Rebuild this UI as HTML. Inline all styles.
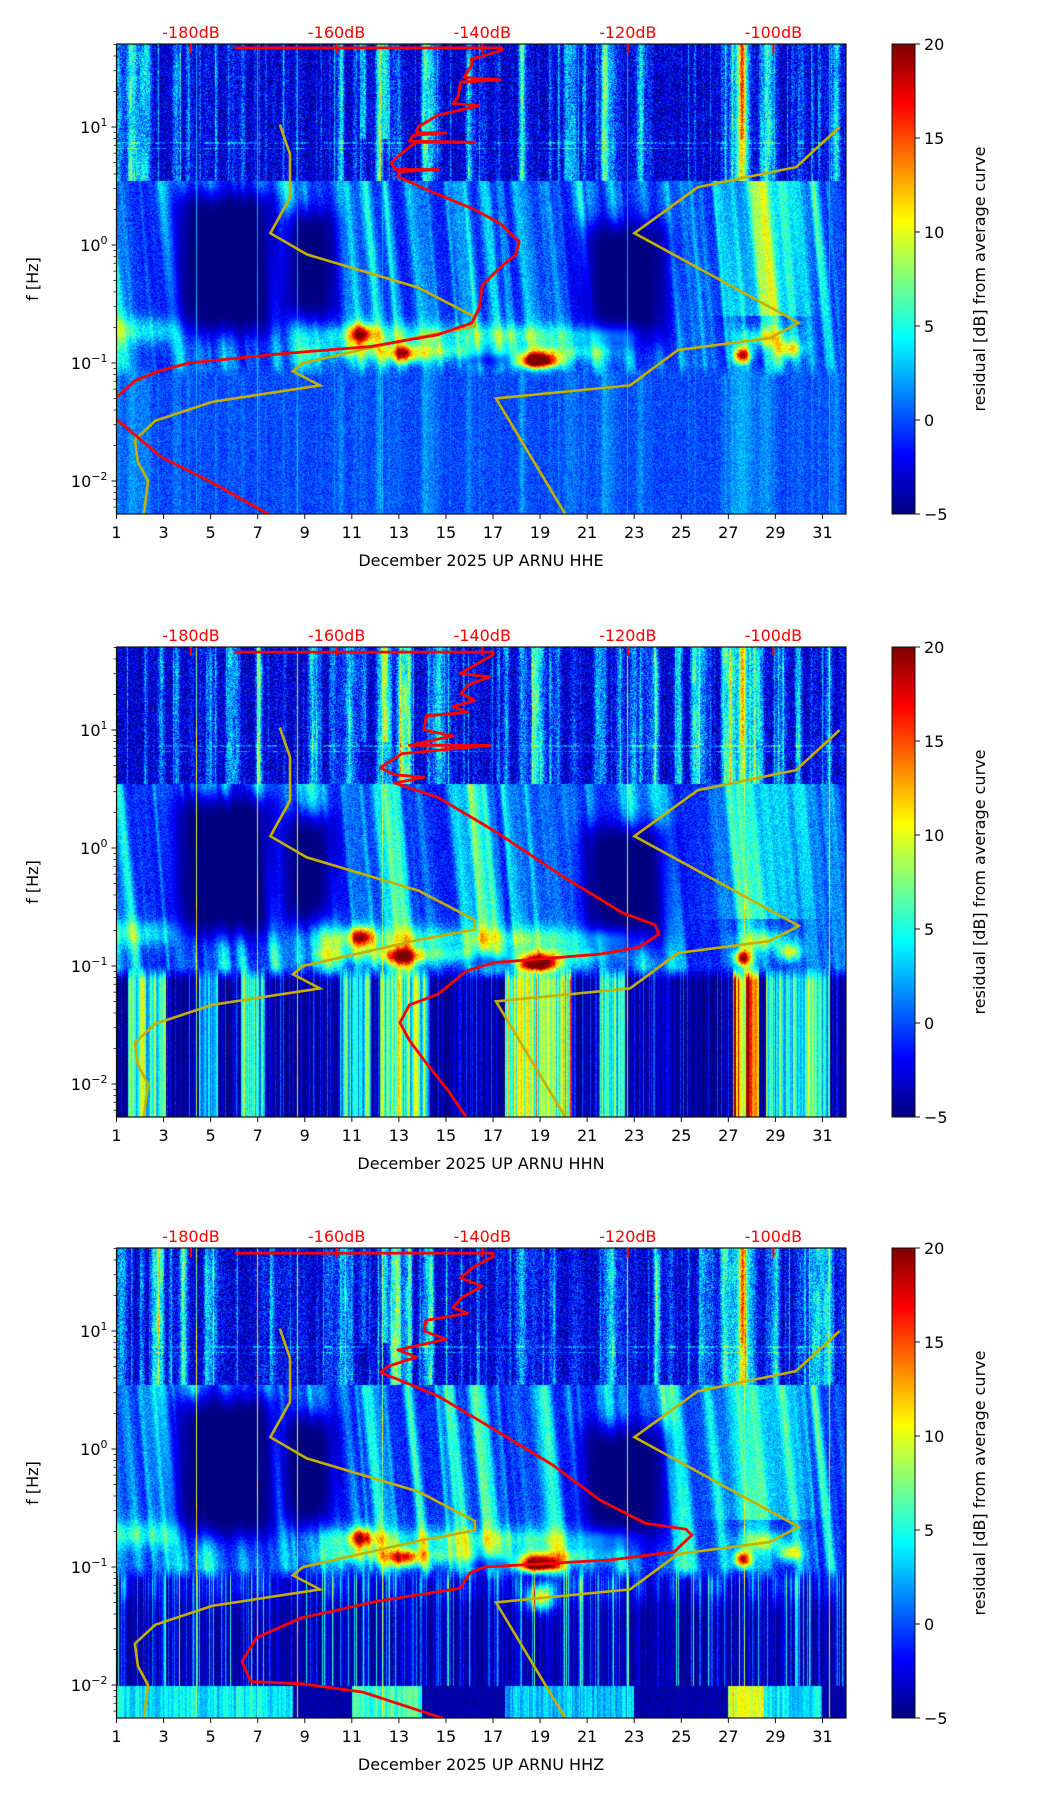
<!DOCTYPE html>
<html><head><meta charset="utf-8">
<style>
html,body{margin:0;padding:0;background:#fff;}
#root{position:relative;width:1052px;height:1806px;overflow:hidden;font-family:"DejaVu Sans","Liberation Sans",sans-serif;}
canvas{position:absolute;}
svg{position:absolute;left:0;top:0;}
</style></head>
<body>
<div id="root">
<canvas id="c0" width="730" height="470" style="left:116px;top:44px"></canvas>
<canvas id="c1" width="730" height="470" style="left:116px;top:647px"></canvas>
<canvas id="c2" width="730" height="470" style="left:116px;top:1248px"></canvas>
<canvas id="cb0" width="23" height="470" style="left:892px;top:44px"></canvas>
<canvas id="cb1" width="23" height="470" style="left:892px;top:647px"></canvas>
<canvas id="cb2" width="23" height="470" style="left:892px;top:1248px"></canvas>
<svg id="ov" width="1052" height="1806"></svg>
</div>
<script>
// ---- data ----
const channels = ["HHE","HHN","HHZ"];
const dayTicks = [1,3,5,7,9,11,13,15,17,19,21,23,25,27,29,31];
const dbTicks = [-180,-160,-140,-120,-100];
const dbTickLabels = ["-180dB","-160dB","-140dB","-120dB","-100dB"];
const yTickExp = [1,0,-1,-2];
const cbTicks = [-5,0,5,10,15,20];
// red curves: log10(freq) and dB
const redLogF0 = [1.67,1.67,1.65,1.60,1.58,1.53,1.42,1.40,1.38,1.26,1.20,1.18,1.10,1.00,0.95,0.95,0.93,0.88,0.87,0.87,0.84,0.78,0.70,0.64,0.64,0.62,0.58,0.45,0.31,0.19,0.03,-0.08,-0.20,-0.34,-0.53,-0.66,-0.76,-0.86,-0.92,-1.00,-1.07,-1.15,-1.28,-1.40,-1.49,-1.80,-2.00,-2.29];
const redDb0   = [-174,-137.3,-137.3,-140,-141.5,-141.4,-142.5,-137.5,-143,-143.3,-144,-140.5,-146.1,-148.8,-149,-145,-149.5,-150,-141,-149,-149.8,-151,-152.5,-152,-146,-151.5,-151.6,-146.9,-141.4,-137.7,-134.9,-135.4,-137.7,-140.0,-140.4,-141.4,-146.1,-155.3,-167.4,-180.3,-184.5,-187.7,-190.0,-192,-190.0,-184.0,-177.5,-169.1];
const redLogF1 = [1.66,1.66,1.64,1.55,1.48,1.45,1.38,1.31,1.25,1.20,1.15,1.12,1.00,0.95,0.87,0.87,0.80,0.68,0.62,0.60,0.55,0.43,0.14,-0.25,-0.55,-0.65,-0.73,-0.84,-0.90,-0.97,-1.04,-1.24,-1.33,-1.48,-1.63,-1.82,-2.07,-2.29];
const redDb1   = [-174,-138.5,-138.5,-141,-143,-139,-142,-142.9,-141,-144,-142,-147.7,-148,-144,-150,-139,-151,-154.0,-152,-148,-152,-146.1,-138.2,-128.7,-120.7,-116.3,-115.7,-118.4,-123.9,-138.2,-142.1,-146.1,-150.0,-151.3,-150.0,-147.7,-144.5,-142.1];
const redLogF2 = [1.66,1.66,1.63,1.55,1.45,1.38,1.28,1.20,1.15,1.09,1.00,0.93,0.84,0.78,0.70,0.65,0.60,0.55,0.45,0.16,-0.14,-0.43,-0.63,-0.68,-0.73,-0.87,-0.94,-1.00,-1.05,-1.18,-1.29,-1.43,-1.60,-1.80,-1.97,-1.99,-2.06,-2.29];
const redDb2   = [-174,-138.5,-138.5,-141,-143,-140,-142.9,-144,-142,-147.7,-148,-145,-151.6,-149,-153,-154.0,-152,-150,-146.1,-138.2,-130.2,-123.9,-117.6,-112.0,-111.2,-113.6,-122.3,-139.7,-141.7,-143,-154.4,-164.8,-171,-173,-171.8,-164.8,-156.4,-145];
const redLogF = [redLogF0, redLogF1, redLogF2];
const redDb = [redDb0, redDb1, redDb2];
// yellow curves (two segments), same in all panels
const yelALogF = [1.02,0.77,0.40,0.10,-0.08,-0.36,-0.61,-0.69,-0.78,-1.00,-1.07,-1.19,-1.33,-1.49,-1.65,-1.84,-2.00,-2.29];
const yelADb   = [-167.8,-166.4,-166.4,-169.1,-164.1,-148.8,-141.0,-141.0,-148.8,-164.6,-166.0,-162.3,-177.1,-184.9,-187.7,-187.3,-185.9,-186.5];
const yelBLogF = [1.00,0.66,0.49,0.10,-0.66,-0.79,-0.89,-1.19,-1.30,-2.29];
const yelBDb   = [-90.9,-96.9,-110.4,-119.1,-96.5,-100.6,-113.1,-119.7,-138.1,-128.5];

// ---- geometry ----
const L=116.5, W=729.5, H=470, TOPS=[44,647,1248];
const xDay = d => L + (d-1)*W/31;
const yLog = (t,lf) => t + 83 + (1-lf)*118;
const xDb = db => 191 + (db+180)*7.28;
const NS="http://www.w3.org/2000/svg";
const svg=document.getElementById('ov');
function el(tag, attrs, parent){const e=document.createElementNS(NS,tag);for(const k in attrs)e.setAttribute(k,attrs[k]);(parent||svg).appendChild(e);return e;}

function jet(v){let t=(v+5)/25;t=Math.max(0,Math.min(1,t));
  const c=x=>Math.max(0,Math.min(1,x));
  return [c(1.5-Math.abs(4*t-3))*255,c(1.5-Math.abs(4*t-2))*255,c(1.5-Math.abs(4*t-1))*255];}
function h(i,j){let n=(i*374761393+j*668265263)|0;n=(n^(n>>>13))*1274126177|0;n=n^(n>>>16);return (n>>>0)/4294967296;}
function g(x,m,s){return Math.exp(-((x-m)*(x-m))/(2*s*s));}
function vn(x,seed){const i=Math.floor(x),f=x-i;const u=f*f*(3-2*f);return h(i,seed)*(1-u)+h(i+1,seed)*u;}
function box(d,lf,d0,d1,l0,l1,s,sl){const sg=z=>1/(1+Math.exp(-z));
  return sg((d-d0)/s)*sg((d1-d)/s)*sg((lf-l0)/sl)*sg((l1-lf)/sl);}

const thinLines=[4.4,7.0,8.7,12.3,22.7,27.7,31.3];
const colStreaks=[0,1,2].map(p=>{const a=[];for(let i=0;i<730;i++){
  let v=Math.pow(vn(i/7.5,p*3+1),3)*0.9+Math.pow(vn(i/2.2,p*3+2),6)*0.6;a.push(v);}return a;});

function lowBright(d,p){
  const rs=[[1.5,3.1,10],[4.5,5.3,5],[6.3,7.3,6],[10.5,11.8,8],[12.2,14.3,11],[17.5,20.3,13],[21.5,22.6,7],[27.2,28.3,22],[28.6,31.3,9]];
  let v=-5;for(const r of rs){ if(d>r[0]&&d<r[1]) v=Math.max(v,-5+(r[2]+5)*(0.35+0.65*vn(d*14,p+20)));}
  return v;}
function low3(d){const rs=[[1,8.5,3],[11,14,5],[17.5,23,2],[27,28.5,9],[28.5,31,3]];
  let v=-4;for(const r of rs){if(d>r[0]&&d<r[1]) v=r[2]-1+4*vn(d*18,33);} return v;}

function field(px,py,p){
  const d=1+px*31/W; const lf=1+(83-py)/118;
  const n=(h(px+p*1000,py)-0.5);
  const cs=colStreaks[p][px];
  let v;
  if(lf>0.55){
    const vm=0.6+0.4*vn(py/25,px>>2);
    v=-3.2+cs*13*vm+n*6;
    if(Math.abs(lf-0.87)<0.01||Math.abs(lf-0.82)<0.006) v+=4*h(px>>3,p+3);
    v+=9*g(d,27.6,0.22)+7*g(d,27.6,0.08)*(lf>0.9?1:0.4);
    if(lf>0.9) v+=7*g(d,12.4,0.1)+4*g(d,11.5,0.1);
  } else {
    const s1=vn(d*2.2+lf*1.1,p+40), s2=vn(d*5+lf*2,p+50);
    const ws=Math.pow(s1,2.5)*7.5+Math.pow(s2,3)*4;
    v=-1.5+ws+n*3.5;
    v+=4*g(d,28.6,1.2)*(lf>-0.6?1:0);
    let dk=Math.max(box(d,lf,3.5,7.8,-0.75,0.45,0.3,0.06),box(d,lf,8.0,10.3,-0.65,0.3,0.25,0.06),
      box(d,lf,20.8,24.4,-0.85,0.2,0.3,0.06),box(d,lf,16,18.3,-1.0,-0.88,0.2,0.03));
    v=v*(1-dk)+(-5.5)*dk;
    v+=9*g(lf,-0.72,0.08)*box(d,0,0,3.6,-1,1,0.3,1);
    v+=4*g(lf,-0.85,0.15)*box(d,0,9.3,23,-1,1,0.5,1);
    v+=8*g(lf,-0.76,0.06)*box(d,0,9.5,23,-1,1,0.5,1)*(0.6+0.6*vn(d*2,p+60));
    v+=9*g(lf,-0.9,0.045)*box(d,0,9.5,22,-1,1,0.5,1)*(0.5+0.7*vn(d*2.5,p+61));
    v+=24*g(lf,-0.98,0.05)*g(d,18.9,0.6);
    v+=14*g(lf,-0.75,0.06)*g(d,11.4,0.35);
    v+=12*g(lf,-0.92,0.05)*g(d,13.2,0.5);
    v+=18*g(lf,-0.93,0.05)*g(d,27.6,0.25);
    v+=10*g(lf,-0.88,0.05)*g(d,29.6,0.35);
    v+=7*g(lf,-0.78,0.06)*g(d,28.5,0.8);
    if(lf<-1.0){
      let lv;
      if(p==0){ lv=-0.2+cs*2.5+n*3+2*g(d,27.7,0.4); }
      else if(p==1){ lv=lowBright(d,p)+n*2+Math.pow(vn(d*30,p+70),3)*6; }
      else { lv=(lf<-2)? low3(d)+n*2 : -4.5+n*2+Math.pow(vn(d*25,80),4)*12+4*g(lf,-1.15,0.1)*vn(d*3,81);
        if(lf>=-2) lv+=14*g(lf,-1.25,0.08)*g(d,19,0.4); }
      const bl=Math.min(1,Math.max(0,(-1.0-lf)/0.12));
      v=v*(1-bl)+lv*bl;
    }
  }
  for(const ld of thinLines){ if(Math.abs(d-ld)<0.025) v=Math.max(v,(p==0?3:12)*(0.5+0.5*vn(py/30,ld*10|0))); }
  return v;
}

for(let p=0;p<3;p++){
  const cv=document.getElementById('c'+p), ctx=cv.getContext('2d');
  const img=ctx.createImageData(730,470);
  for(let y=0;y<470;y++)for(let x=0;x<730;x++){const c=jet(field(x,y,p));const o=(y*730+x)*4;
    img.data[o]=c[0];img.data[o+1]=c[1];img.data[o+2]=c[2];img.data[o+3]=255;}
  ctx.putImageData(img,0,0);
  const cb=document.getElementById('cb'+p).getContext('2d');
  for(let y=0;y<470;y++){const c=jet(20-y*25/470);cb.fillStyle=`rgb(${c[0]|0},${c[1]|0},${c[2]|0})`;cb.fillRect(0,y,23,1);}
}

function path(lfs,dbs,t){return lfs.map((lf,i)=>(i?'L':'M')+xDb(dbs[i]).toFixed(1)+','+yLog(t,lf).toFixed(1)).join(' ');}

for(let p=0;p<3;p++){
  const t=TOPS[p];
  const grp=el('g',{});
  const cp=el('clipPath',{id:'cl'+p},grp); el('rect',{x:L,y:t,width:W,height:H},cp);
  const yA=el('path',{d:path(yelALogF,yelADb,t),fill:'none',stroke:'#c4b000','stroke-width':2.6,'clip-path':`url(#cl${p})`},grp);
  
  
  const yB=el('path',{d:path(yelBLogF,yelBDb,t),fill:'none',stroke:'#c4b000','stroke-width':2.6,'clip-path':`url(#cl${p})`},grp);
  
  
  const rc=el('path',{d:path(redLogF[p],redDb[p],t),fill:'none',stroke:'#ff0000','stroke-width':2.8,'stroke-linejoin':'round','clip-path':`url(#cl${p})`},grp);
  
  
  el('rect',{x:L,y:t,width:W,height:H,fill:'none',stroke:'#111','stroke-width':1.2},grp);
  dayTicks.forEach(d=>{const x=xDay(d);el('line',{x1:x,x2:x,y1:t+H,y2:t+H+5,stroke:'#111','stroke-width':1},grp);
    const tx=el('text',{x:x,y:t+H+24,'font-size':16,'text-anchor':'middle',fill:'#000'},grp);tx.textContent=d;
    
    });
  const xl=el('text',{x:481,y:t+H+52,'font-size':16,'text-anchor':'middle',fill:'#000','xml:space':'preserve'},grp);
  xl.textContent='December 2025 UP ARNU  '+channels[p];
  
  
  for(let e=-3;e<=1;e++)for(let k=1;k<10;k++){const lf=e+Math.log10(k);if(lf<-2.29||lf>1.71)continue;const y=yLog(t,lf);
    el('line',{x1:L-(k==1?5:3),x2:L,y1:y,y2:y,stroke:'#111','stroke-width':k==1?1:0.8},grp);}
  yTickExp.forEach(e=>{const y=yLog(t,e);const tx=el('text',{x:L-9,y:y+6,'font-size':16,'text-anchor':'end',fill:'#000'},grp);
    
    
    const a=el('tspan',{},tx);a.textContent='10';const b=el('tspan',{dy:-7,'font-size':11},tx);b.textContent=e<0?'\u2212'+(-e):String(e);});
  const yl=el('text',{x:0,y:0,'font-size':16,'text-anchor':'middle',transform:`translate(38,${t+H/2}) rotate(-90)`,fill:'#000'},grp);
  yl.textContent='f [Hz]';
  
  
  dbTicks.forEach((db,i)=>{const x=xDb(db);el('line',{x1:x,x2:x,y1:t,y2:t+9,stroke:'#ff0000','stroke-width':2},grp);
    const tx=el('text',{x:x,y:t-6,'font-size':16,'text-anchor':'middle',fill:'#ff0000'},grp);tx.textContent=dbTickLabels[i];
    
    });
  el('rect',{x:892,y:t,width:23,height:H,fill:'none',stroke:'#111','stroke-width':1},grp);
  cbTicks.forEach(v=>{const y=t+H-(v+5)*H/25;el('line',{x1:915,x2:920,y1:y,y2:y,stroke:'#111'},grp);
    const tx=el('text',{x:924,y:y+6,'font-size':16,fill:'#000'},grp);tx.textContent=v<0?'\u2212'+(-v):String(v);
    
    });
  const cl=el('text',{x:0,y:0,'font-size':16,'text-anchor':'middle',transform:`translate(985,${t+H/2}) rotate(-90)`,fill:'#000'},grp);
  cl.textContent='residual [dB] from average curve';
  
  
}
</script>
</body></html>
